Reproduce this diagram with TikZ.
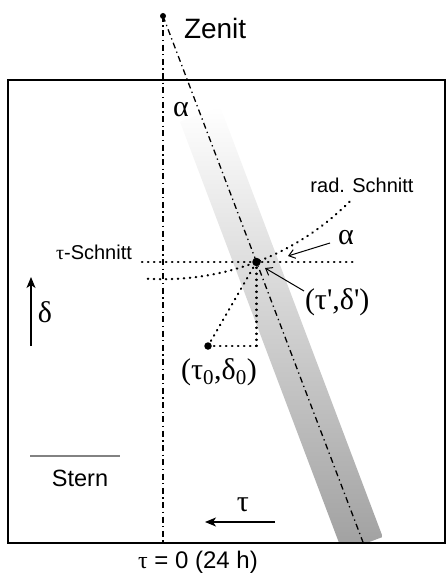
\documentclass[tikz,border=0pt]{standalone}
\usepackage{fontspec}
\setmainfont{Liberation Sans}
\newfontfamily\grk{Liberation Serif}
\usetikzlibrary{arrows.meta,calc}
\definecolor{bandgray}{RGB}{160,160,160}
\definecolor{sterngray}{RGB}{130,130,130}
\begin{document}
\begin{tikzpicture}[x=1pt,y=1pt,
  frame/.style={line width=1.6pt},
  axisline/.style={line width=1.3pt, dash pattern=on 6pt off 3.5pt on 1.3pt off 3.5pt},
  dotline/.style={line width=2.3pt, line cap=round, dash pattern=on 0.4pt off 5.6pt},
  lbl/.style={inner sep=0pt, outer sep=0pt},
  grklbl/.style={lbl, font=\grk\fontsize{30}{34}\selectfont},
  biglbl/.style={lbl, font=\fontsize{23.5}{27}\selectfont},
  bigarrow/.style={line width=1.4pt, -{Stealth[length=11pt,width=9pt,inset=3pt]}},
  thinarrow/.style={line width=1pt, -{Straight Barb[length=6pt,width=9pt]}},
  dotmark/.style={fill=black, circle, inner sep=0pt}
]
\useasboundingbox (0,0) rectangle (447,-575);

% key points
\coordinate (Z) at (163,-16);
\coordinate (C) at (256.5,-262);
\coordinate (P0) at (208,-346);
\coordinate (Q) at (256.5,-346);
\coordinate (Vb) at (163,-543);
\coordinate (Sbot) at (363.3,-543);

% gray band
\begin{scope}
  \clip (8,-80) rectangle (445,-543);
  \begin{scope}[shift={(Z)}, rotate=20.69]
    \shade[top color=white, bottom color=bandgray] (-21.5,-105) rectangle (21.5,-565);
  \end{scope}
\end{scope}

% frame
\draw[frame] (8,-80) rectangle (445,-543);

% axes
\draw[axisline] (Z) -- (Vb);
\draw[axisline] (Z) -- (Sbot);

% tau-Schnitt (horizontal dotted)
\coordinate (tsL) at (142,-262);
\coordinate (tsR) at (353,-262);
\draw[dotline] (tsL) -- (tsR);

% radial Schnitt (arc around zenith)
\coordinate (arcL) at ($(Z)+(266.7:263.2)$);
\draw[dotline] (arcL) arc[start angle=266.7, end angle=315.2, radius=263.2];

% construction from (tau0,delta0)
\draw[dotline] (P0) -- (Q);
\draw[dotline] (Q) -- (C);
\draw[dotline] (P0) -- (C);

% dots
\node[dotmark, minimum size=6pt] (Zdot) at (Z) {};
\node[dotmark, minimum size=8.5pt] (Cdot) at (C) {};
\node[dotmark, minimum size=7.5pt] (P0dot) at (P0) {};

% labels
\node[lbl, anchor=west, font=\fontsize{28}{32}\selectfont] (zenit) at (184,-28) {Zenit};
\node[grklbl] (alphatop) at (181,-110) {α};
\node[lbl, font=\fontsize{20}{24}\selectfont] (rad) at (362,-185) {rad. Schnitt};
\node[grklbl] (alpharight) at (346,-238) {α};
\node[lbl, font=\fontsize{20}{24}\selectfont] (tsch) at (94,-252) {{\grk τ}-Schnitt};
\node[grklbl, anchor=west] (tdp) at (305,-302) {(τ\textquotesingle,δ\textquotesingle)};
\node[grklbl] (t0d0) at (219,-372) {(τ\textsubscript{0},δ\textsubscript{0})};
\node[grklbl] (delta) at (45,-312) {δ};
\node[biglbl] (stern) at (80,-478) {Stern};
\node[grklbl] (taul) at (243,-505) {τ};
\node[lbl, font=\fontsize{24}{28}\selectfont] (tau0) at (198,-562) {{\grk τ} = 0 (24 h)};

% arrows
\coordinate (a1s) at (330,-243);
\coordinate (a1e) at (288,-256);
\draw[thinarrow] (a1s) -- (a1e);
\coordinate (a2s) at (304,-291);
\coordinate (a2e) at (265,-268);
\draw[thinarrow] (a2s) -- (a2e);
\coordinate (ds) at (31,-346);
\coordinate (de) at (31,-277);
\draw[bigarrow] (ds) -- (de);
\coordinate (ts) at (275,-522);
\coordinate (te) at (205,-522);
\draw[bigarrow] (ts) -- (te);

% Stern line
\coordinate (sl) at (30,-456);
\coordinate (sr) at (120,-456);
\draw[sterngray, line width=1.5pt] (sl) -- (sr);
\end{tikzpicture}
\end{document}
